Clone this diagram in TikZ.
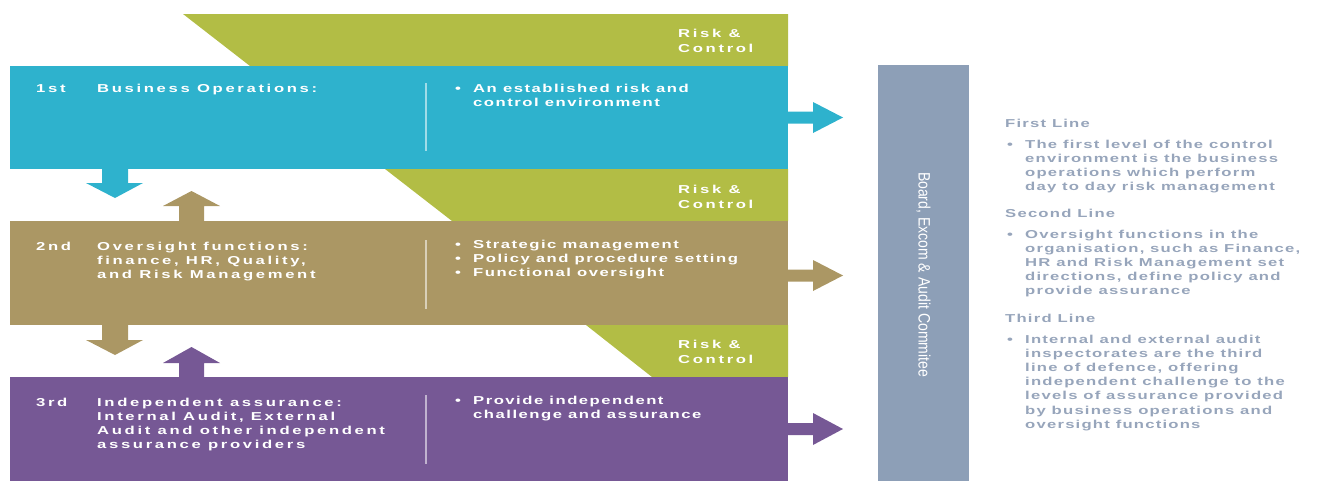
\documentclass[tikz,border=0pt]{standalone}
\usepackage{fontspec}
\setmainfont{Liberation Sans}
\newfontfamily\bandfont[FakeStretch=1.45,LetterSpace=23]{Liberation Sans}
\newfontfamily\pointfont[FakeStretch=1.45,LetterSpace=13]{Liberation Sans}
\newfontfamily\notefont[FakeStretch=1.45,LetterSpace=10.5]{Liberation Sans}
\newfontfamily\boardfont[FakeStretch=0.85]{Liberation Sans}
\definecolor{opsblue}{HTML}{2EB2CD}
\definecolor{rcgreen}{HTML}{B2BD45}
\definecolor{ovtan}{HTML}{AB9764}
\definecolor{aspurple}{HTML}{765895}
\definecolor{boardgrey}{HTML}{8D9FB7}
\definecolor{notegrey}{HTML}{97A5BB}
% stacked lines whose baseline is the first line
\newcommand{\stackl}[1]{\begin{tabular}[t]{@{}l@{}}#1\end{tabular}}
\tikzset{
  band/.style={draw=none, minimum width=778pt, minimum height=104pt, inner sep=0pt, anchor=north west},
  bandtxt/.style={text=white, inner sep=0pt, anchor=base west,
    font=\bandfont\bfseries\fontsize{11.5}{14.2}\selectfont},
  pointtxt/.style={bandtxt, font=\pointfont\bfseries\fontsize{11.5}{14.2}\selectfont},
  rctxt/.style={bandtxt, font=\bandfont\bfseries\fontsize{11.5}{15}\selectfont},
  notetxt/.style={text=notegrey, inner sep=0pt, anchor=base west,
    font=\notefont\bfseries\fontsize{11.5}{14.2}\selectfont},
  divider/.style={white, opacity=0.55, line width=1.3pt},
}
\begin{document}
\begin{tikzpicture}[x=1pt, y=-1pt]
\useasboundingbox (0,0) rectangle (1322,482);

% risk & control wedges behind the bands
\fill[rcgreen] (183,14) -- (788,14) -- (788,66) -- (250,66) -- cycle;
\fill[rcgreen] (385,169) -- (788,169) -- (788,221) -- (452,221) -- cycle;
\fill[rcgreen] (586,325) -- (788,325) -- (788,377) -- (652,377) -- cycle;

% the three lines
\node[band, fill=opsblue, minimum height=103pt] (ops) at (10,66) {};
\node[band, fill=ovtan] (ovs) at (10,221) {};
\node[band, fill=aspurple] (ind) at (10,377) {};

% dividers
\draw[divider] (426,83) -- (426,151);
\draw[divider] (426,240) -- (426,309);
\draw[divider] (426,395) -- (426,464);

% arrows between the lines
\fill[opsblue] (102,169) -- (128,169) -- (128,183) -- (143,183) -- (115,198) -- (86,183) -- (102,183) -- cycle;
\fill[ovtan] (179,221) -- (179,206) -- (163,206) -- (191.5,191) -- (220,206) -- (204,206) -- (204,221) -- cycle;
\fill[ovtan] (102,325) -- (128,325) -- (128,340) -- (143,340) -- (115,355) -- (86,340) -- (102,340) -- cycle;
\fill[aspurple] (179,377) -- (179,363) -- (163,363) -- (191.5,347) -- (220,363) -- (204,363) -- (204,377) -- cycle;

% arrows towards the board
\fill[opsblue] (788,111.5) -- (813,111.5) -- (813,102) -- (843,117.5) -- (813,133) -- (813,123.5) -- (788,123.5) -- cycle;
\fill[ovtan] (788,269.5) -- (813,269.5) -- (813,260) -- (843,275.5) -- (813,291) -- (813,281.5) -- (788,281.5) -- cycle;
\fill[aspurple] (788,423) -- (813,423) -- (813,413) -- (843,429) -- (813,445) -- (813,435) -- (788,435) -- cycle;

% board
\node[fill=boardgrey, minimum width=91pt, minimum height=416pt, inner sep=0pt, anchor=north west] (board) at (878,65) {};
\node[rotate=-90, text=white, inner sep=0pt, font=\boardfont\fontsize{16.5}{18}\selectfont] (boardlbl) at (923.5,274.5) {Board, Excom \& Audit Commitee};

% risk & control labels
\node[rctxt] (rc1) at (678,37) {\stackl{Risk \&\\Control}};
\node[rctxt] (rc2) at (678,193) {\stackl{Risk \&\\Control}};
\node[rctxt] (rc3) at (678,348.5) {\stackl{Risk \&\\Control}};

% first line text
\node[bandtxt] (n1) at (36,92) {1st};
\node[bandtxt] (t1) at (97,92) {Business Operations:};
\node[pointtxt] (d1) at (455,92) {•};
\node[pointtxt] (e1) at (473,92) {\stackl{An established risk and\\control environment}};

% second line text
\node[bandtxt] (n2) at (36,250) {2nd};
\node[bandtxt] (t2) at (97,250) {\stackl{Oversight functions:\\finance, HR, Quality,\\and Risk Management}};
\node[pointtxt] (d2) at (455,248) {\stackl{•\\•\\•}};
\node[pointtxt] (e2) at (473,248) {\stackl{Strategic management\\Policy and procedure setting\\Functional oversight}};

% third line text
\node[bandtxt] (n3) at (36,406) {3rd};
\node[bandtxt] (t3) at (97,406) {\stackl{Independent assurance:\\Internal Audit, External\\Audit and other independent\\assurance providers}};
\node[pointtxt] (d3) at (455,404) {•};
\node[pointtxt] (e3) at (473,404) {\stackl{Provide independent\\challenge and assurance}};

% notes
\node[notetxt] (h1) at (1005,127) {First Line};
\node[notetxt] (p1) at (1007,148) {•};
\node[notetxt] (q1) at (1025,148) {\stackl{The first level of the control\\environment is the business\\operations which perform\\day to day risk management}};
\node[notetxt] (h2) at (1005,217) {Second Line};
\node[notetxt] (p2) at (1007,238) {•};
\node[notetxt] (q2) at (1025,238) {\stackl{Oversight functions in the\\organisation, such as Finance,\\HR and Risk Management set\\directions, define policy and\\provide assurance}};
\node[notetxt] (h3) at (1005,322) {Third Line};
\node[notetxt] (p3) at (1007,343) {•};
\node[notetxt] (q3) at (1025,343) {\stackl{Internal and external audit\\inspectorates are the third\\line of defence, offering\\independent challenge to the\\levels of assurance provided\\by business operations and\\oversight functions}};
\end{tikzpicture}
\end{document}
